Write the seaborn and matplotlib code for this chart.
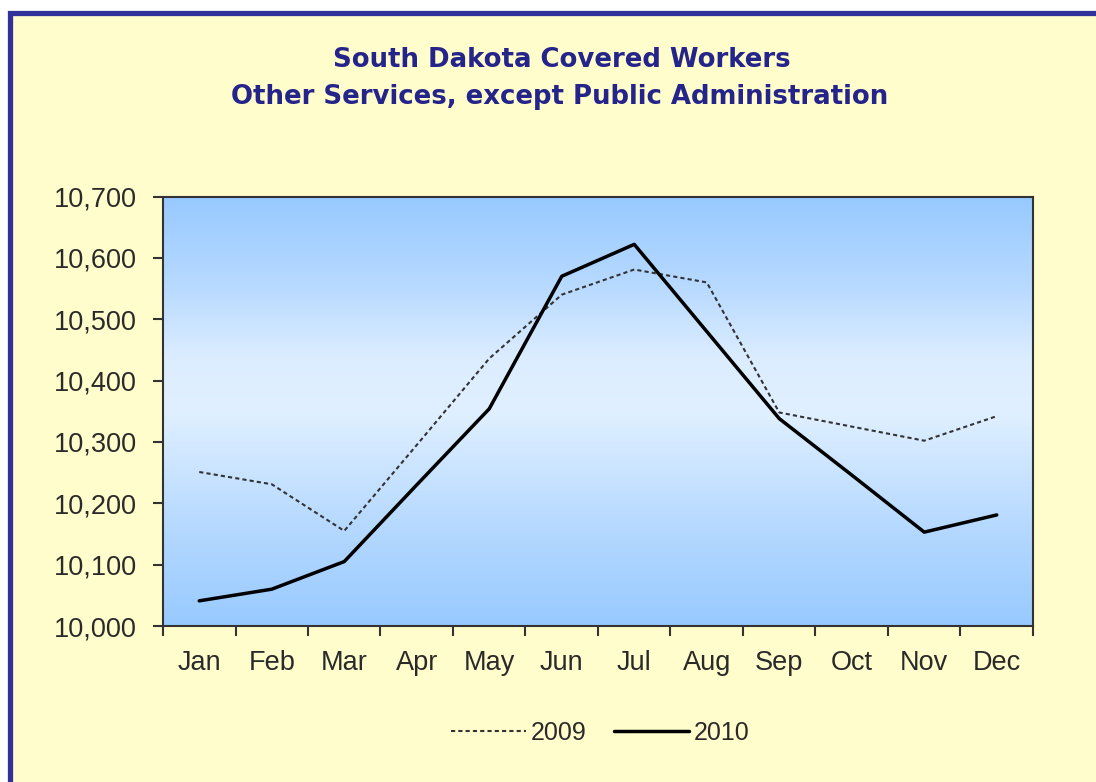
import numpy as np
import pandas as pd
import matplotlib
matplotlib.use("Agg")
import matplotlib.pyplot as plt
from matplotlib.patches import Rectangle
from matplotlib.colors import LinearSegmentedColormap
from matplotlib.ticker import FuncFormatter, FixedLocator, NullFormatter
from matplotlib.lines import Line2D
import seaborn as sns

months = ["Jan", "Feb", "Mar", "Apr", "May", "Jun", "Jul", "Aug", "Sep", "Oct", "Nov", "Dec"]
workers_2009 = [10251, 10231, 10155, 10295, 10436, 10540, 10581, 10560, 10348, 10325, 10302, 10342]
workers_2010 = [10041, 10060, 10105, 10230, 10354, 10570, 10622, 10480, 10338, 10246, 10153, 10181]
title_lines = ["South Dakota Covered Workers", "Other Services, except Public Administration"]
y_ticks = [10000, 10100, 10200, 10300, 10400, 10500, 10600, 10700]

sns.set_theme(style="white")
plt.rcParams["font.family"] = ["Liberation Sans", "DejaVu Sans"]

W, H = 1096, 782
fig = plt.figure(figsize=(W / 100, H / 100), dpi=100, facecolor="white")

# outer yellow panel with dark-blue frame (extends past right/bottom edges)
fig.patches.append(Rectangle((9.5 / W, -0.1), 1.2, (H - 12.5) / H + 0.1,
                             transform=fig.transFigure, facecolor="#FFFDCB",
                             edgecolor="#31319A", linewidth=3.8, zorder=-10))

ax = fig.add_axes([163 / W, 1 - 626 / H, (1033 - 163) / W, (626 - 196.5) / H])
ax.set_zorder(1)
ax.set_facecolor("none")

# gradient background of the plot area
cmap = LinearSegmentedColormap.from_list(
    "bg", [(0.0, "#98CAFF"), (0.22, "#B4D8FF"), (0.5, "#E0F0FF"), (0.62, "#DCEDFF"),
           (0.8, "#B6D9FF"), (1.0, "#97C9FF")])
grad = np.linspace(0, 1, 256).reshape(-1, 1)
ax.imshow(grad, cmap=cmap, aspect="auto", extent=[0, 1, 0, 1],
          transform=ax.transAxes, zorder=0, origin="lower", interpolation="bicubic")

df = pd.DataFrame({"x": np.arange(len(months)), "m": months,
                   "y2009": workers_2009, "y2010": workers_2010})

sns.lineplot(data=df, x="x", y="y2009", ax=ax, color="#333333", linewidth=1.5,
             linestyle=(0, (2.0, 1.5)), zorder=3)
sns.lineplot(data=df, x="x", y="y2010", ax=ax, color="black", linewidth=2.5, zorder=4)

ax.set_xlim(-0.5, len(months) - 0.5)
ax.set_ylim(y_ticks[0], y_ticks[-1])
ax.set_xlabel("")
ax.set_ylabel("")

# x: ticks at category boundaries, labels at centers
ax.xaxis.set_major_locator(FixedLocator(np.arange(-0.5, len(months), 1.0)))
ax.xaxis.set_major_formatter(NullFormatter())
ax.xaxis.set_minor_locator(FixedLocator(np.arange(len(months))))
ax.set_xticklabels(months, minor=True)
ax.tick_params(axis="x", which="major", direction="out", length=7, width=1.5,
               color="#333333", bottom=True)
ax.tick_params(axis="x", which="minor", length=0, pad=17, labelsize=19.5,
               labelcolor="#2A2A2A", bottom=True)

ax.set_yticks(y_ticks)
ax.yaxis.set_major_formatter(FuncFormatter(lambda v, p: f"{int(v):,}"))
ax.tick_params(axis="y", direction="out", length=7, width=1.5, color="#333333",
               left=True, pad=12, labelsize=19.5, labelcolor="#2A2A2A")

for s in ax.spines.values():
    s.set_visible(True)
    s.set_color("#333333")
    s.set_linewidth(1.5)
    s.set_zorder(5)

fig.text(562 / W, 1 - 60 / H, title_lines[0], ha="center", va="center",
         fontsize=18.7, fontweight="bold", color="#24248A", family=["DejaVu Sans"])
fig.text(560 / W, 1 - 97 / H, title_lines[1], ha="center", va="center",
         fontsize=18.7, fontweight="bold", color="#24248A", family=["DejaVu Sans"])

handles = [Line2D([0], [0], color="#333333", lw=1.5, linestyle=(0, (2.0, 1.5))),
           Line2D([0], [0], color="black", lw=2.5)]
fig.legend(handles, ["2009", "2010"], loc="center", bbox_to_anchor=(600 / W, 1 - 733 / H),
           ncol=2, frameon=False, fontsize=18, handlelength=3.0, handletextpad=0.2,
           columnspacing=1.1, labelcolor="#2A2A2A")

fig.savefig("out.png", dpi=100, facecolor="white")
